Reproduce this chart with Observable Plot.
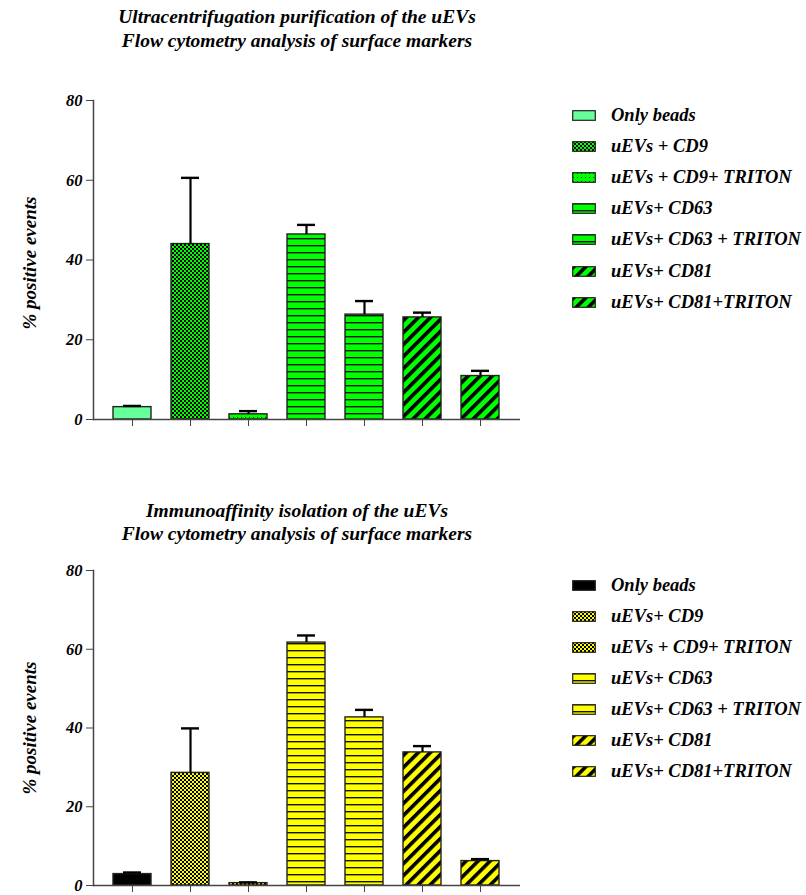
<!DOCTYPE html>
<html>
<head>
<meta charset="utf-8">
<script src="https://cdn.jsdelivr.net/npm/d3@7"></script>
<script src="https://cdn.jsdelivr.net/npm/@observablehq/plot@0.6"></script>
<style>
  html, body { margin: 0; padding: 0; background: #fff; }
  body { width: 806px; height: 895px; position: relative; overflow: hidden;
         font-family: "Liberation Serif", "Times New Roman", serif; font-weight: bold; font-style: italic; color: #000; }
  .title { position: absolute; left: 0; width: 594px; text-align: center; font-size: 19.5px; line-height: 24px; }
  .ylab { position: absolute; width: 220px; height: 22px; line-height: 22px; text-align: center; font-size: 19px;
          transform: rotate(-90deg); }
  .chart { position: absolute; left: 0; }
  .leg { position: absolute; left: 572px; height: 22px; display: flex; align-items: center; white-space: nowrap; font-size: 18.5px; }
  .leg svg { display: block; margin-right: 15px; }
  #defs { position: absolute; width: 0; height: 0; left: 0; top: 0; }
</style>
</head>
<body>
<svg id="defs" width="0" height="0"></svg>
<div class="title" style="top:5px">Ultracentrifugation purification of the uEVs<br>Flow cytometry analysis of surface markers</div>
<div class="title" style="top:499px; line-height:23px">Immunoaffinity isolation of the uEVs<br>Flow cytometry analysis of surface markers</div>
<div class="ylab" style="left:-80px; top:252px">% positive events</div>
<div class="ylab" style="left:-80px; top:717px">% positive events</div>
<div id="chart1" class="chart" style="top:0px"></div>
<div id="chart2" class="chart" style="top:447px"></div>
<div id="legend1"></div>
<div id="legend2"></div>
<script>
// ---------- data ----------
const ucCategories = ["Only beads", "uEVs + CD9", "uEVs + CD9+ TRITON", "uEVs+ CD63", "uEVs+ CD63 + TRITON", "uEVs+ CD81", "uEVs+ CD81+TRITON"];
const ucMeans  = [3.1, 44.0, 1.3, 46.4, 26.3, 25.6, 10.9];
const ucErrors = [0.3, 16.6, 0.8, 2.4, 3.4, 1.2, 1.3];

const iaCategories = ["Only beads", "uEVs+ CD9", "uEVs + CD9+ TRITON", "uEVs+ CD63", "uEVs+ CD63 + TRITON", "uEVs+ CD81", "uEVs+ CD81+TRITON"];
const iaMeans  = [2.9, 28.6, 0.6, 61.7, 42.7, 33.8, 6.2];
const iaErrors = [0.4, 11.3, 0.2, 1.8, 1.9, 1.6, 0.5];

const yTicks = [0, 20, 40, 60, 80];

// ---------- styles (fill patterns) ----------
const ucFills = ["#66ff99", "url(#chkG)", "url(#dotG)", "url(#hlnG)", "url(#hlnG)", "url(#diaG)", "url(#diaG)"];
const iaFills = ["#000000", "url(#chkY)", "url(#chkY)", "url(#hlnY)", "url(#hlnY)", "url(#diaY)", "url(#diaY)"];

// pattern definitions
const defs = d3.select("#defs").append("defs");
function checker(id, bg) {
  const p = defs.append("pattern").attr("id", id).attr("patternUnits", "userSpaceOnUse").attr("width", 4).attr("height", 4);
  p.append("rect").attr("width", 4).attr("height", 4).attr("fill", bg);
  p.append("rect").attr("width", 2).attr("height", 2).attr("fill", "#000");
  p.append("rect").attr("x", 2).attr("y", 2).attr("width", 2).attr("height", 2).attr("fill", "#000");
}
function dots(id, bg) {
  const p = defs.append("pattern").attr("id", id).attr("patternUnits", "userSpaceOnUse").attr("width", 4).attr("height", 4);
  p.append("rect").attr("width", 4).attr("height", 4).attr("fill", bg);
  p.append("rect").attr("x", 1).attr("y", 1).attr("width", 1).attr("height", 1).attr("fill", "#114411");
}
function hlines(id, bg) {
  const p = defs.append("pattern").attr("id", id).attr("patternUnits", "userSpaceOnUse").attr("width", 8).attr("height", 7);
  p.append("rect").attr("width", 8).attr("height", 7).attr("fill", bg);
  p.append("rect").attr("y", 0).attr("width", 8).attr("height", 1.4).attr("fill", "#111");
}
function diag(id, bg) {
  const p = defs.append("pattern").attr("id", id).attr("patternUnits", "userSpaceOnUse").attr("width", 8.5).attr("height", 8.5)
    .attr("patternTransform", "rotate(45)");
  p.append("rect").attr("width", 8.5).attr("height", 8.5).attr("fill", bg);
  p.append("rect").attr("width", 3.6).attr("height", 8.5).attr("fill", "#000");
}
checker("chkG", "#00ff00"); dots("dotG", "#00ff00"); hlines("hlnG", "#00ff00"); diag("diaG", "#00ff00");
checker("chkY", "#ffff00"); hlines("hlnY", "#ffff00"); diag("diaY", "#ffff00");

function makeChart(categories, means, errors, fills, opts) {
  const data = categories.map((c, i) => ({cat: c, mean: means[i], top: means[i] + errors[i], fill: fills[i]}));
  return Plot.plot({
    width: 806,
    height: opts.height,
    marginLeft: 93,
    marginRight: 286,
    marginTop: opts.marginTop,
    marginBottom: opts.marginBottom,
    style: {fontFamily: "'Liberation Serif', 'Times New Roman', serif", fontSize: "16.5px", fontWeight: "bold", fontStyle: "italic", color: "#000", background: "transparent", overflow: "visible"},
    x: {domain: categories, padding: 0.34},
    y: {domain: [0, 80]},
    color: {type: "identity"},
    marks: [
      Plot.barY(data, {x: "cat", y: "mean", fill: "fill", stroke: "#222", strokeWidth: 1.4}),
      Plot.ruleX(data, {x: "cat", y1: "mean", y2: "top", stroke: "#000", strokeWidth: 2.2}),
      Plot.tickY(data, {x: "cat", y: "top", stroke: "#000", strokeWidth: 2.4, insetLeft: 10, insetRight: 10}),
      Plot.ruleY([0], {stroke: "#444", strokeWidth: 1.5}),
      Plot.frame({anchor: "left", stroke: "#444", strokeWidth: 1.5}),
      Plot.axisY({ticks: yTicks, tickSize: 7, tickPadding: 4, stroke: "#444", fill: "#000", label: null, tickFormat: d => String(d)}),
      Plot.axisX({tickSize: 7, tickFormat: () => "", stroke: "#444", label: null})
    ]
  });
}

document.getElementById("chart1").appendChild(
  makeChart(ucCategories, ucMeans, ucErrors, ucFills, {height: 440, marginTop: 100, marginBottom: 21}));
document.getElementById("chart2").appendChild(
  makeChart(iaCategories, iaMeans, iaErrors, iaFills, {height: 448, marginTop: 123, marginBottom: 10}));

function legend(el, categories, fills, y0, step) {
  const host = document.getElementById(el);
  categories.forEach((c, i) => {
    const row = document.createElement("div");
    row.className = "leg";
    row.style.top = (y0 + i * step - 11) + "px";
    row.innerHTML = `<svg width="24" height="11"><rect x="0.7" y="0.7" width="22.6" height="9.6" fill="${fills[i]}" stroke="#222" stroke-width="1.2"/></svg><span>${c}</span>`;
    host.appendChild(row);
  });
}
legend("legend1", ucCategories, ucFills, 115, 31.2);
legend("legend2", iaCategories, iaFills, 585, 31.1);
</script>
</body>
</html>
